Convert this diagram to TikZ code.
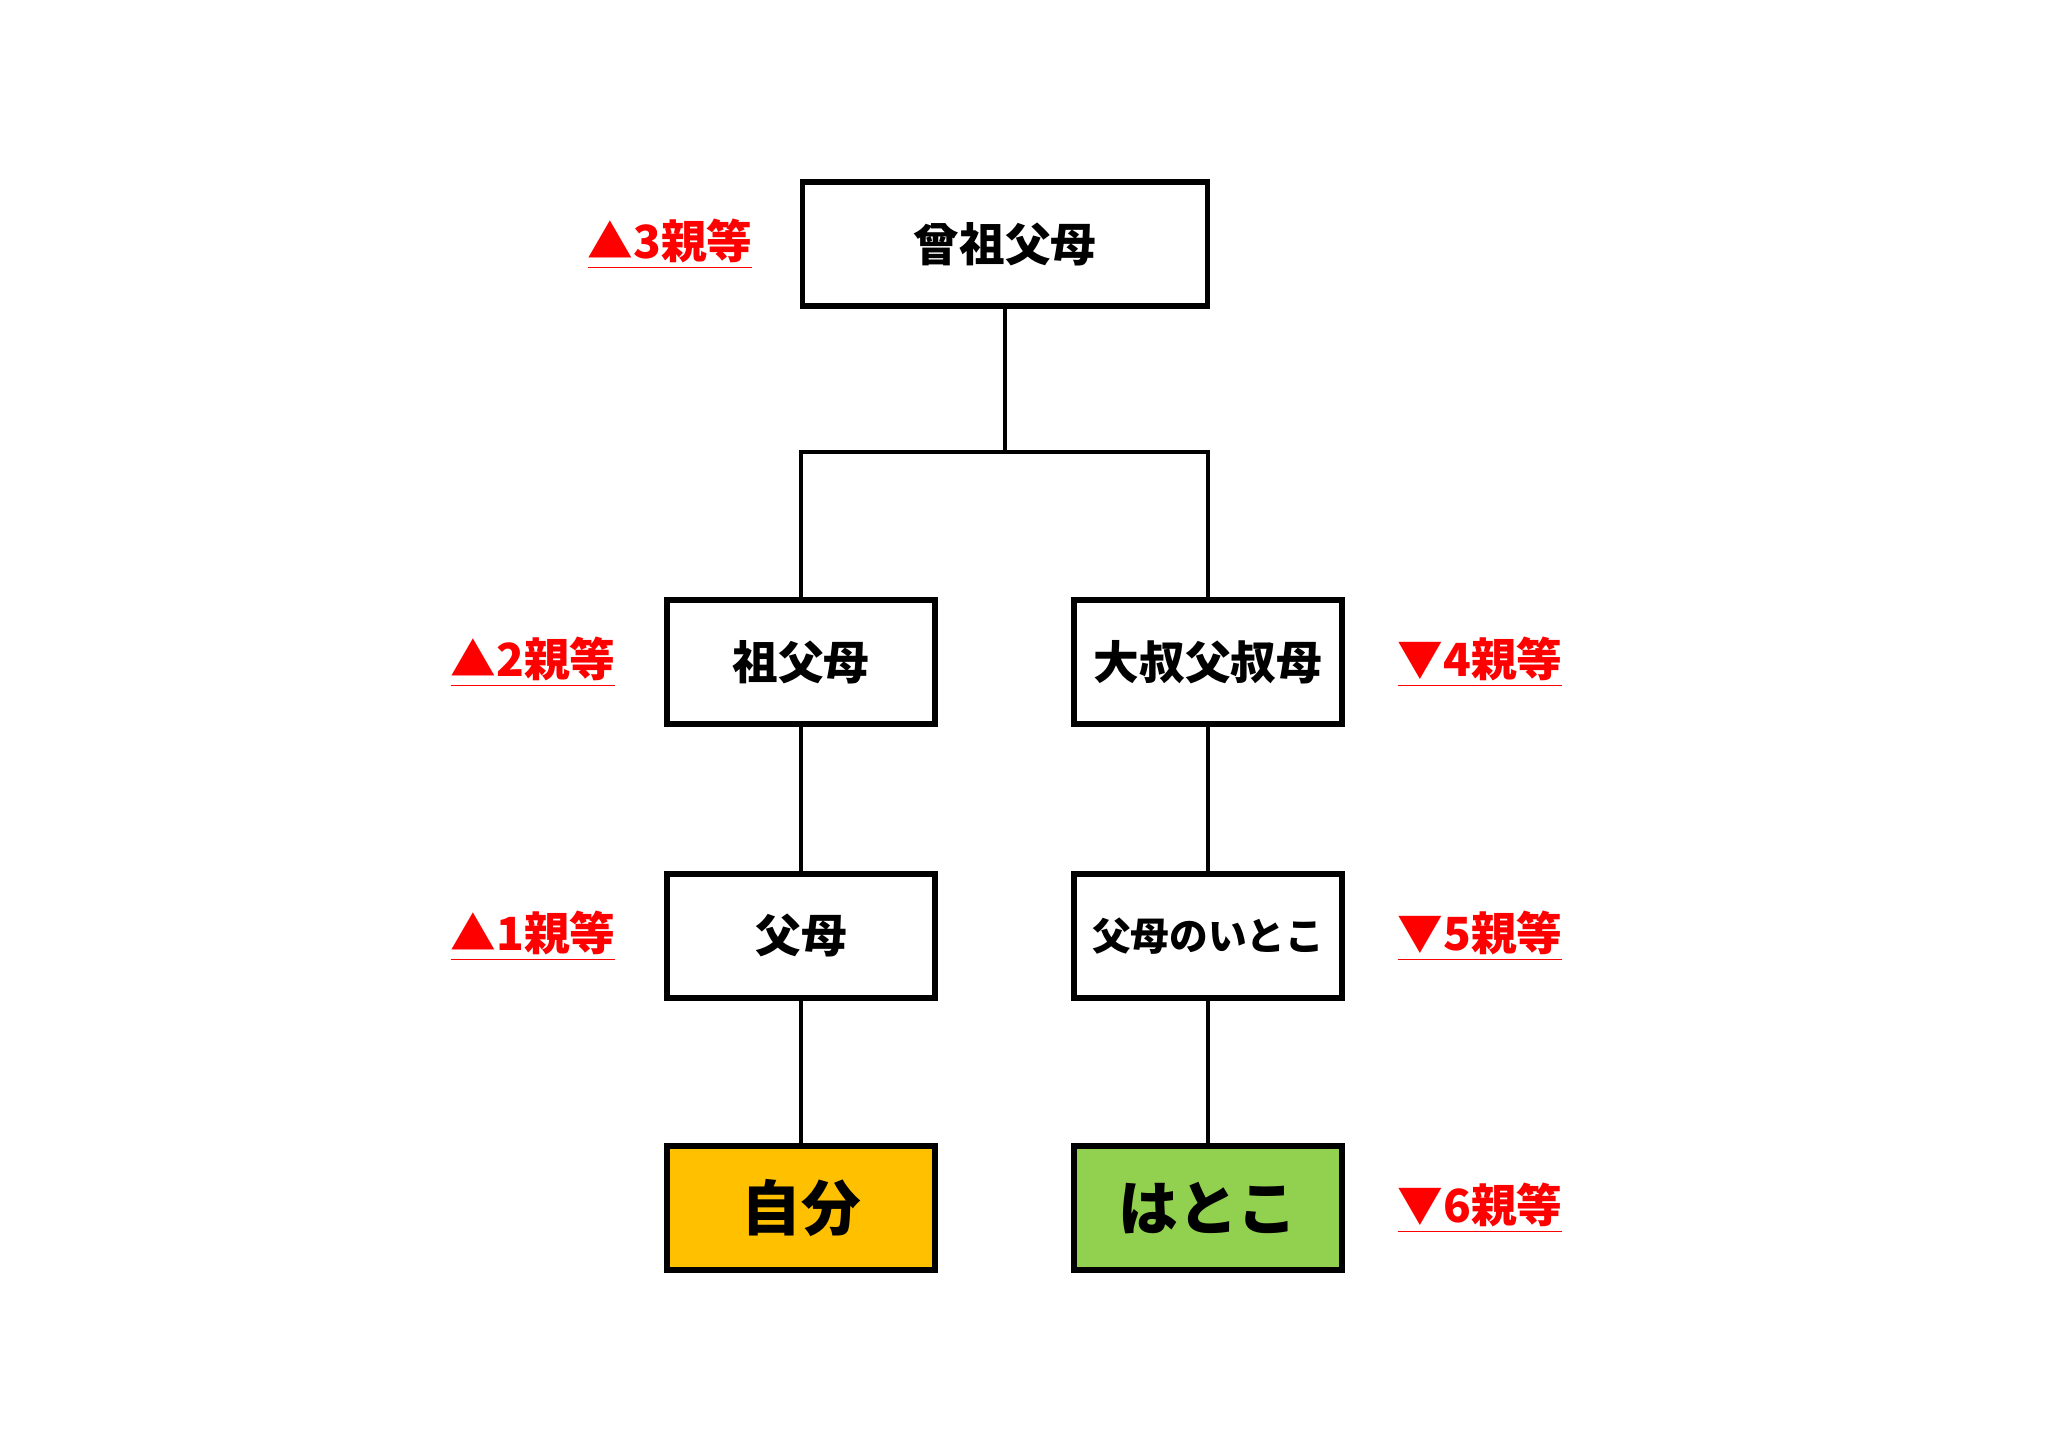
\documentclass[tikz,border=0pt]{standalone}
\usepackage{fontspec}
\setmainfont{Noto Sans CJK JP}
\usetikzlibrary{positioning}
\definecolor{jibun}{HTML}{FFC000}
\definecolor{hatoko}{HTML}{92D050}
\tikzset{
  person/.style={draw, line width=1.5pt, minimum width=2.68cm, minimum height=1.24cm, font=\bfseries\fontsize{13}{13}\selectfont},
  degree/.style={text=red, font=\bfseries\fontsize{13}{13}\selectfont},
  link/.style={line width=1pt}
}
\begin{document}
\begin{tikzpicture}

\useasboundingbox (0,0) rectangle (20.48,14.48);

%People
\node[person, minimum width=4.05cm] (sofubo3) at (10.05,12.04) {曾祖父母};
\node[person] (sofubo) at (8.01,7.86) {祖父母};
\node[person] (ooji) at (12.08,7.86) {大叔父叔母};
\node[person] (fubo) at (8.01,5.12) {父母};
\node[person, font=\bfseries\fontsize{11}{11}\selectfont] (itoko) at (12.08,5.12) {父母のいとこ};
\node[person, fill=jibun, font=\bfseries\fontsize{17}{17}\selectfont] (jibun) at (8.01,2.40) {自分};
\node[person, fill=hatoko, font=\bfseries\fontsize{17}{17}\selectfont] (hatoko) at (12.08,2.40) {はとこ};

%Degrees
\node[degree] (d3) at (6.70,12.04) {\underline{▲3親等}};
\node[degree] (d2) at (5.33,7.86) {\underline{▲2親等}};
\node[degree] (d1) at (5.33,5.12) {\underline{▲1親等}};
\node[degree] (d4) at (14.80,7.86) {\underline{▼4親等}};
\node[degree] (d5) at (14.80,5.12) {\underline{▼5親等}};
\node[degree] (d6) at (14.80,2.40) {\underline{▼6親等}};

%Links
\coordinate (split) at (10.05,9.96);
\draw[link] (sofubo3.south) -- (split);
\draw[link] (sofubo.north) |- (split) -| (ooji.north);
\draw[link] (sofubo) -- (fubo) -- (jibun);
\draw[link] (ooji) -- (itoko) -- (hatoko);

\end{tikzpicture}
\end{document}
